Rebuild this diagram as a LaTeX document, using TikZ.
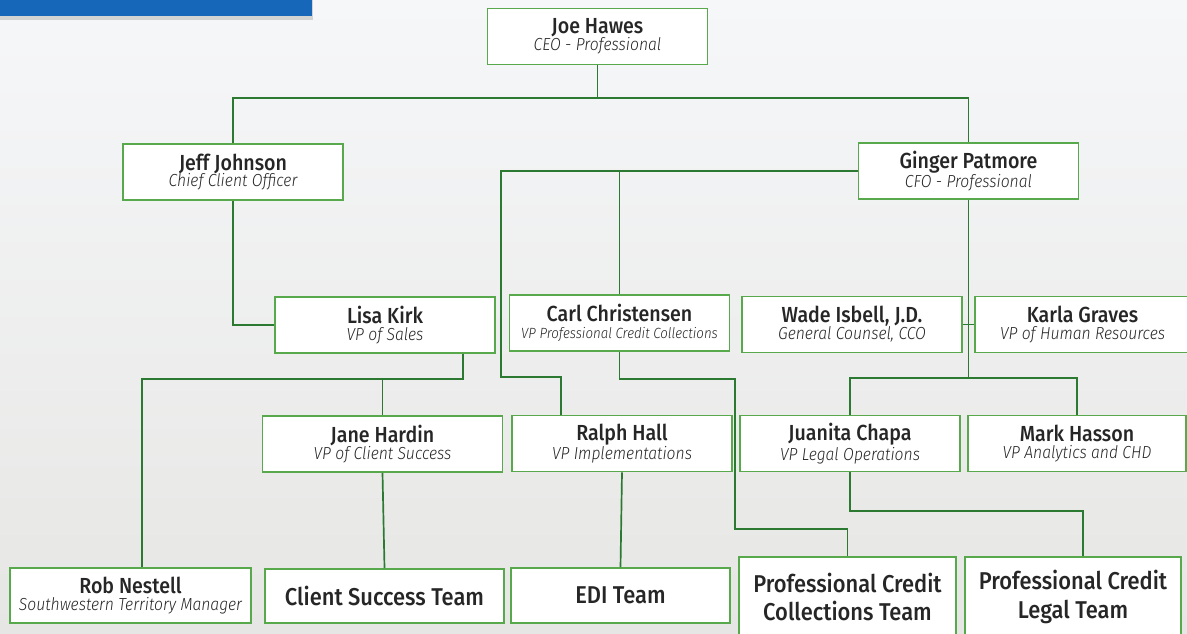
\documentclass[tikz,border=0pt]{standalone}
\usepackage{fontspec}
\setmainfont{Fira Sans}[FakeStretch=0.9]
\newfontfamily\rolefont{Fira Sans Light}[FakeStretch=0.9]
\newfontfamily\namefont{Fira Sans Medium}[FakeStretch=0.9]
\usetikzlibrary{shadows}

\definecolor{boxgreen}{RGB}{88,168,76}
\definecolor{linegreen}{RGB}{44,122,50}
\definecolor{bannerblue}{RGB}{22,102,186}
\definecolor{papertop}{RGB}{246,247,249}
\definecolor{paperbot}{RGB}{230,230,228}

\newcommand{\pname}[1]{{\fontsize{15.5}{18}\namefont #1}}
\newcommand{\prole}[1]{{\fontsize{12.4}{15}\rolefont\itshape #1}}

\begin{document}
\begin{tikzpicture}[x=0.025cm, y=-0.025cm,
  box/.style={draw=boxgreen, line width=1.1pt, fill=white, inner sep=0pt, align=center,
    minimum width=5.5cm, minimum height=1.4cm, text=black!85},
  team/.style={box, font=\fontsize{17.3}{20}\namefont},
  link/.style={draw=linegreen, line width=1.2pt}]
  \useasboundingbox (0,0) rectangle (1187,633);
  \clip (0,0) rectangle (1187,633);
  \shade[top color=papertop, bottom color=paperbot] (0,0) rectangle (1187,633);
  \fill[bannerblue, drop shadow={shadow xshift=1pt, shadow yshift=-3pt, opacity=.3}] (-10,-10) rectangle (312,16);

  % direction
  \node[box] (Joe) at (597.5,36.5) {\pname{Joe Hawes}\\\prole{CEO - Professional}};
  \node[box] (Jeff) at (233,172) {\pname{Jeff Johnson}\\\prole{Chief Client Officer}};
  \node[box] (Ginger) at (968.5,171) {\pname{Ginger Patmore}\\\prole{CFO - Professional}};

  \node[box] (Lisa) at (385,325) {\pname{Lisa Kirk}\\\prole{VP of Sales}};
  \node[box] (Carl) at (619.5,323) {\pname{Carl Christensen}\\{\fontsize{10.5}{13}\rolefont\itshape VP Professional Credit Collections}};
  \node[box] (Wade) at (852,324.5) {\pname{Wade Isbell, J.D.}\\\prole{General Counsel, CCO}};
  \node[box, minimum width=5.375cm] (Karla) at (1082.5,324.5) {\pname{Karla Graves}\\\prole{VP of Human Resources}};

  \node[box, minimum width=6cm] (Jane) at (382.5,444) {\pname{Jane Hardin}\\\prole{VP of Client Success}};
  \node[box] (Ralph) at (622,443.5) {\pname{Ralph Hall}\\\prole{VP Implementations}};
  \node[box] (Juanita) at (850,443.5) {\pname{Juanita Chapa}\\\prole{VP Legal Operations}};
  \node[box, minimum width=5.45cm] (Mark) at (1077,443.5) {\pname{Mark Hasson}\\\prole{VP Analytics and CHD}};

  % equipes
  \node[box, minimum width=6.025cm, minimum height=1.375cm] (Rob) at (130.5,595.5) {\pname{Rob Nestell}\\\prole{Southwestern Territory Manager}};
  \node[team, minimum width=5.975cm, minimum height=1.35cm] (Cst) at (384.5,596) {Client Success Team};
  \node[team, minimum width=5.475cm, minimum height=1.375cm] (Edi) at (620.5,595.5) {EDI Team};
  \node[team, minimum width=5.425cm, minimum height=2cm] (Pcc) at (847.5,597) {Professional Credit\\Collections Team};
  \node[team, minimum width=5.4cm, minimum height=2cm] (Pcl) at (1073,597) {Professional Credit\\Legal Team};

  \draw[link] (Joe.south) -- (Joe.south |- 0,98);
  \draw[link] (Jeff.north) -- (Jeff.north |- 0,98) -| (Ginger.north);
  \draw[link] (Jeff.south) |- (Lisa.west);
  \draw[link] (Ginger.west) -| (Carl.north);
  \draw[link] (Ginger.west) -- (501,171) -- (501,377) -| (561,0 |- Ralph.north);
  \draw[link] (Ginger.south) -- (Ginger.south |- 0,378);
  \draw[link] (Wade.east) -- (Karla.west);
  \draw[link] (Juanita.north) -- (Juanita.north |- 0,378) -| (Mark.north);
  \draw[link] (Carl.south) |- (735,379) -- (735,529) -| (Pcc.north);
  \draw[link] (Juanita.south) |- (1083,511) -- (1083,0 |- Pcl.north);
  \draw[link] (463,0 |- Lisa.south) -- (463,379) -- (142,379) -- (142,0 |- Rob.north);
  \draw[link] (Jane.north) -- (Jane.north |- 0,379);
  \draw[link] (Jane.south) -- (Cst.north);
  \draw[link] (Ralph.south) -- (Edi.north);
\end{tikzpicture}
\end{document}
